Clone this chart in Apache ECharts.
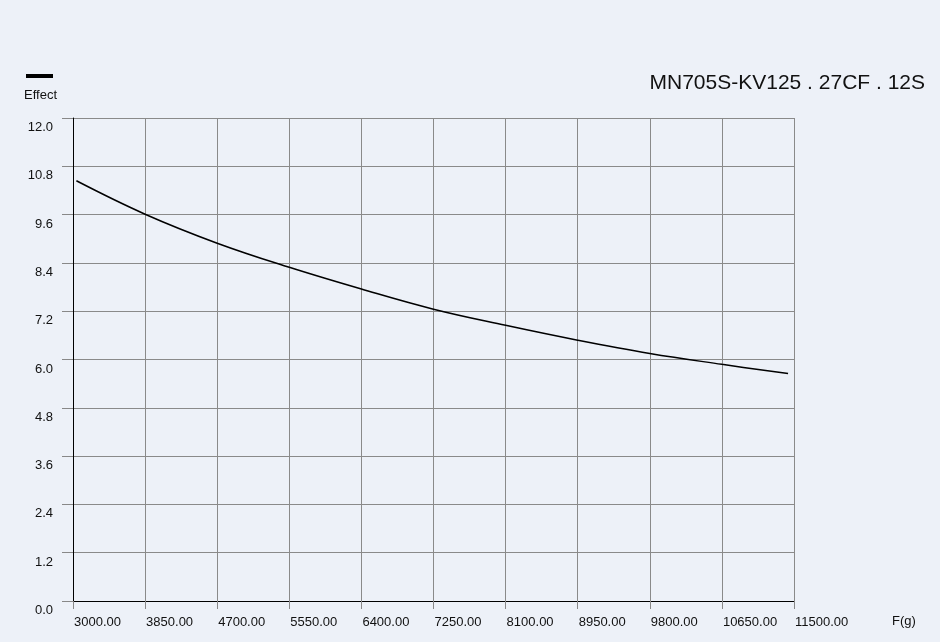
<!DOCTYPE html>
<html>
<head>
<meta charset="utf-8">
<script src="https://cdn.jsdelivr.net/npm/echarts@6/dist/echarts.min.js"></script>
<style>html,body{margin:0;padding:0;background:#edf1f8;}#c{width:940px;height:642px;}</style>
</head>
<body>
<div id="c"></div>
<script>
var titleText = 'MN705S-KV125 . 27CF . 12S';
var seriesName = 'Effect';
var xName = 'F(g)';
var forceValues = [3040, 3850, 4700, 5550, 6400, 7250, 8100, 8950, 9800, 10650, 11430];
var effectValues = [10.44, 9.61, 8.89, 8.29, 7.75, 7.25, 6.85, 6.48, 6.15, 5.88, 5.65];

var data = forceValues.map(function (x, i) { return [x, effectValues[i]]; });
var font = 'Liberation Sans, Arial, sans-serif';
var chart = echarts.init(document.getElementById('c'));
chart.setOption({
  backgroundColor: '#edf1f8',
  animation: false,
  title: {
    text: titleText, right: 10, top: 68,
    textStyle: { fontFamily: font, fontSize: 21, fontWeight: 'normal', color: '#111' }
  },
  legend: {
    left: 21, top: 69, itemWidth: 27, itemHeight: 4, icon: 'rect',
    formatter: function () { return ''; },
    data: [seriesName]
  },
  grid: { left: 73, right: 146, top: 118, bottom: 41 },
  xAxis: {
    type: 'value', min: 3000, max: 11500, interval: 850,
    name: xName, nameLocation: 'end', nameGap: 0,
    nameTextStyle: { fontFamily: font, fontSize: 13, color: '#111', padding: [14, 0, 0, 98], verticalAlign: 'top' },
    axisLine: { lineStyle: { color: '#000', width: 1 } },
    axisTick: { show: true, length: 8, lineStyle: { color: '#888' } },
    axisLabel: { fontFamily: font, fontSize: 13, color: '#111', align: 'left', margin: 15, padding: [0,0,0,1],
      formatter: function (v) { return v.toFixed(2); } },
    splitLine: { show: true, lineStyle: { color: '#8a8a8a', width: 1 } }
  },
  yAxis: {
    type: 'value', min: 0, max: 12, interval: 1.2,
    name: seriesName, nameLocation: 'end', nameGap: 23,
    nameTextStyle: { fontFamily: font, fontSize: 13, color: '#111', align: 'right', verticalAlign: 'middle', padding: [0, 16, 0, 0] },
    axisLine: { show: true, lineStyle: { color: '#000', width: 1 } },
    axisTick: { show: true, length: 11, lineStyle: { color: '#888' } },
    axisLabel: { fontFamily: font, fontSize: 13, color: '#111', margin: 20, verticalAlign: 'top', padding: [3, 0, 0, 0],
      formatter: function (v) { return v.toFixed(1); } },
    splitLine: { show: true, lineStyle: { color: '#8a8a8a', width: 1 } }
  },
  series: [{
    name: seriesName, type: 'line', data: data, smooth: 0.4, showSymbol: false, symbol: 'none',
    lineStyle: { color: '#000', width: 1.5 }, itemStyle: { color: '#000' }
  }]
});
</script>
</body>
</html>
